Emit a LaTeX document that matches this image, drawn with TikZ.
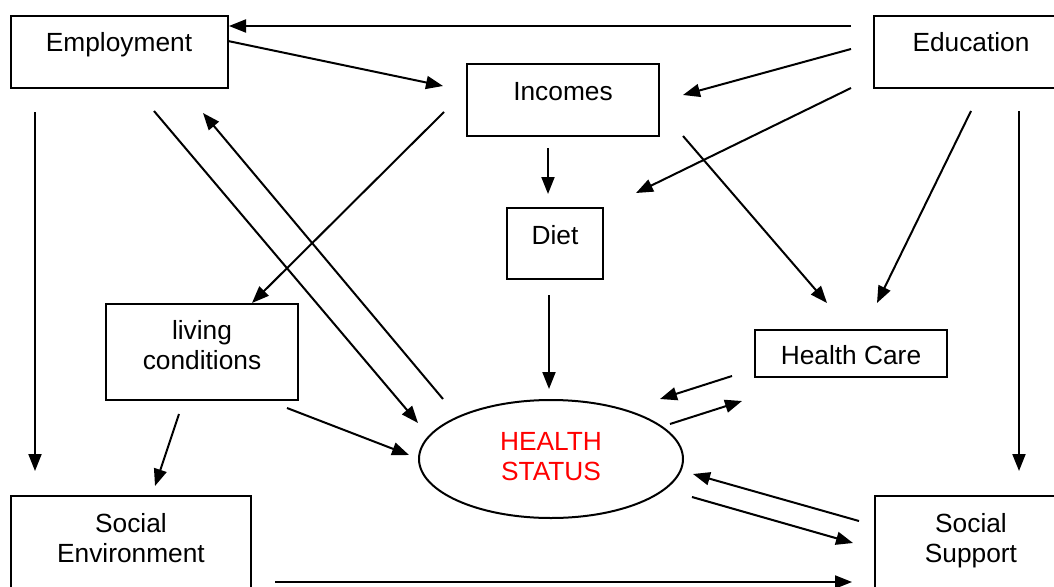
\documentclass[tikz,border=0pt]{standalone}
\usepackage{fontspec}
\setmainfont{Liberation Sans}
\usetikzlibrary{arrows.meta,shapes.geometric}
\begin{document}
\begin{tikzpicture}[x=1pt,y=-1pt,
  box/.style={draw, line width=2pt, inner sep=0pt},
  lbl/.style={font=\fontsize{26.3pt}{30pt}\selectfont, inner sep=0pt, align=center, anchor=base},
  arr/.style={line width=2pt, -{Triangle[length=17pt,width=13pt]}},
]
\useasboundingbox (0,0) rectangle (1054,586);
\clip (0,0) rectangle (1054,586);

% boxes
\node[box, minimum width=217pt, minimum height=72pt] (emp) at (119.5,52) {};
\node[box, minimum width=196pt, minimum height=72pt] (edu) at (972,52) {};
\node[box, minimum width=192pt, minimum height=72pt] (inc) at (563,100) {};
\node[box, minimum width=96pt, minimum height=71pt] (diet) at (555,243.5) {};
\node[box, minimum width=192pt, minimum height=96pt] (liv) at (202,352) {};
\node[box, minimum width=192pt, minimum height=47pt] (hc) at (851,353.5) {};
\node[box, minimum width=240pt, minimum height=110pt] (senv) at (131,551) {};
\node[box, minimum width=196pt, minimum height=110pt] (ssup) at (973,551) {};
\node[draw, ellipse, line width=2pt, minimum width=264pt, minimum height=118pt, inner sep=0pt] (hs) at (551,459) {};

% labels (anchor base = baseline of last line)
\node[lbl] (empT) at (119,52) {Employment};
\node[lbl] (eduT) at (971,52) {Education};
\node[lbl] (incT) at (563,100.5) {Incomes};
\node[lbl] (dietT) at (555,244.5) {Diet};
\node[lbl] (livT) at (202,369) {living\\conditions};
\node[lbl] (hcT) at (851,364) {Health Care};
\node[lbl, text=red] (hsT) at (551,480.5) {HEALTH\\STATUS};
\node[lbl] (senvT) at (131,562.5) {Social\\Environment};
\node[lbl] (ssupT) at (971,562.5) {Social\\Support};

% connector end points
\coordinate (a1) at (851,26);  \coordinate (b1) at (229,26);
\coordinate (a2) at (228,41);  \coordinate (b2) at (443,86);
\coordinate (a3) at (851,49);  \coordinate (b3) at (683,95);
\coordinate (a4) at (851,88);  \coordinate (b4) at (636,193);
\coordinate (a5) at (548,148); \coordinate (b5) at (548,194);
\coordinate (a6) at (444,112); \coordinate (b6) at (252,303);
\coordinate (a7) at (154,111); \coordinate (b7) at (418,423);
\coordinate (a8) at (443,399); \coordinate (b8) at (203,113);
\coordinate (a9) at (35,112);  \coordinate (b9) at (35,471);
\coordinate (a10) at (683,136); \coordinate (b10) at (827,303);
\coordinate (a11) at (971,111); \coordinate (b11) at (877,303);
\coordinate (a12) at (1019,111); \coordinate (b12) at (1019,471);
\coordinate (a13) at (549,295); \coordinate (b13) at (549,389);
\coordinate (a14) at (732,376); \coordinate (b14) at (660,399);
\coordinate (a15) at (670,424); \coordinate (b15) at (742,401);
\coordinate (a16) at (179,414); \coordinate (b16) at (155,486);
\coordinate (a17) at (287,408); \coordinate (b17) at (409,455);
\coordinate (a18) at (859,521); \coordinate (b18) at (693,474);
\coordinate (a19) at (692,497); \coordinate (b19) at (853,543);
\coordinate (a20) at (275,582); \coordinate (b20) at (852,582);

\foreach \i in {1,...,20} {\draw[arr] (a\i) -- (b\i);}
\end{tikzpicture}
\end{document}
